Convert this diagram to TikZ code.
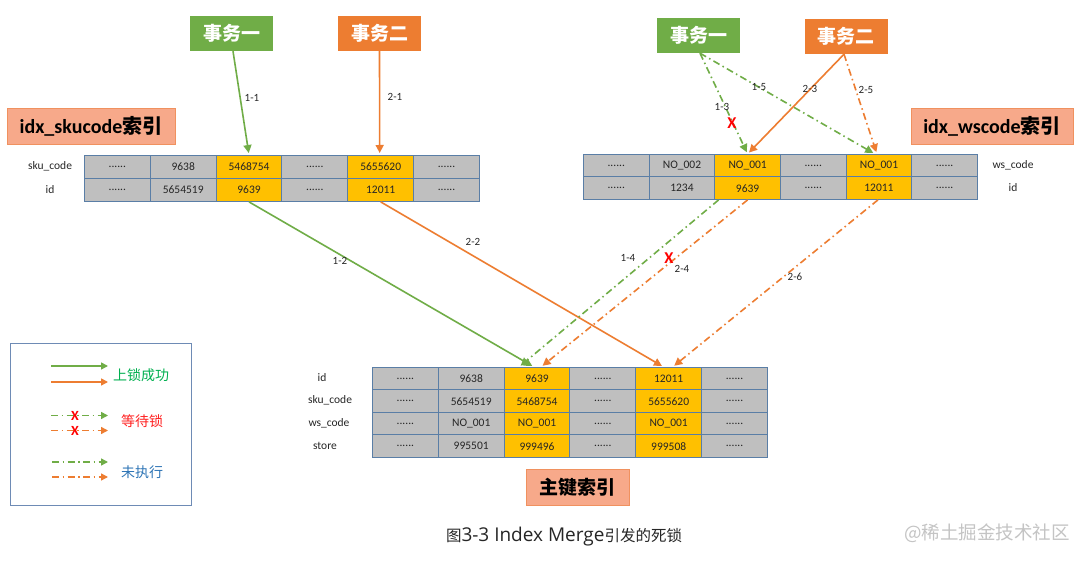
\documentclass[tikz,border=0pt]{standalone}
\usepackage{fontspec}
\setmainfont{Carlito}
\newfontfamily\cjk{Noto Sans CJK SC}
\newfontfamily\capfont{Open Sans}
\usetikzlibrary{arrows.meta,calc}
\newcommand{\cdts}{......}
\definecolor{tgreen}{HTML}{70AD47}
\definecolor{torange}{HTML}{ED7D31}
\definecolor{cellgray}{HTML}{BFBFBF}
\definecolor{cellyel}{HTML}{FFC000}
\definecolor{cellline}{HTML}{5A7EA6}
\definecolor{salmon}{HTML}{F7A98A}
\definecolor{salmonline}{HTML}{F0915F}
\definecolor{legline}{HTML}{6E8BB5}
\definecolor{okgreen}{HTML}{00B050}
\definecolor{waitred}{HTML}{FF2020}
\definecolor{todoblue}{HTML}{2E75B6}
\definecolor{wmgray}{HTML}{C4C4C4}
\tikzset{
 cell/.style={draw=cellline, line width=0.9pt, minimum width=65.83pt, minimum height=23pt, inner sep=0pt, anchor=north west, font=\fontsize{11.5}{13}\selectfont, text=black!85},
 cg/.style={cell, fill=cellgray},
 cy/.style={cell, fill=cellyel},
 rowlab/.style={font=\fontsize{11.5}{13}\selectfont, text=black!85},
 txbox/.style={minimum width=83pt, minimum height=35pt, inner sep=0pt, text=white, font=\cjk\bfseries\fontsize{19}{21}\selectfont},
 idxbox/.style={fill=salmon, draw=salmonline, line width=0.8pt, minimum height=36pt, inner sep=0pt, font=\fontsize{20}{22}\selectfont\bfseries},
 lk/.style={line width=1.6pt, -{Triangle[length=8pt,width=8pt]}, shorten >=2pt},
 ddot/.style={lk, dash pattern=on 7pt off 3.5pt on 1.5pt off 3.5pt},
 lab/.style={font=\fontsize{11}{12}\selectfont, text=black!85, inner sep=1pt},
 xmark/.style={text=red, font=\fontsize{16.5}{17}\selectfont\bfseries, inner sep=0pt},
 legx/.style={text=red, font=\fontsize{14}{14}\selectfont\bfseries, inner sep=0pt},
 legtxt/.style={font=\cjk\fontsize{14}{16}\selectfont},
 leglk/.style={line width=1.6pt, -{Triangle[length=7pt,width=7pt]}},
 legdd/.style={leglk, dash pattern=on 7pt off 3.5pt on 1.5pt off 3.5pt},
}
\begin{document}
\begin{tikzpicture}[x=1pt,y=-1pt]
\useasboundingbox (0,0) rectangle (1080,561);
\fill[white] (0,0) rectangle (1080,561);

% transaction boxes
\node[txbox, fill=tgreen] (L1) at (231.5,33.5) {事务一};
\node[txbox, fill=torange] (L2) at (379.5,33.5) {事务二};
\node[txbox, fill=tgreen] (R1) at (698.5,35.5) {事务一};
\node[txbox, fill=torange] (R2) at (846,36.5) {事务二};

% index title boxes
\node[idxbox, minimum width=168pt] (I1) at (91,126) {idx\_skucode{\cjk 索引}};
\node[idxbox, minimum width=162pt] (I2) at (992,126) {idx\_wscode{\cjk 索引}};
\node[idxbox, minimum width=103pt, minimum height=36pt, font=\cjk\bfseries\fontsize{19}{21}\selectfont] (PK) at (577.5,487) {主键索引};

% left table (idx_skucode)
\foreach \v/\s [count=\c] in {\cdts/cg,9638/cg,5468754/cy,\cdts/cg,5655620/cy,\cdts/cg}
  \node[\s] (sk1\c) at ({84+(\c-1)*65.83},155) {\v};
\foreach \v/\s [count=\c] in {\cdts/cg,5654519/cg,9639/cy,\cdts/cg,12011/cy,\cdts/cg}
  \node[\s] (sk2\c) at ({84+(\c-1)*65.83},178) {\v};
\node[rowlab] (skl1) at (50,166.5) {sku\_code};
\node[rowlab] (skl2) at (50,189.5) {id};

% right table (idx_wscode)
\foreach \v/\s [count=\c] in {\cdts/cg,NO\_002/cg,NO\_001/cy,\cdts/cg,NO\_001/cy,\cdts/cg}
  \node[\s, minimum width=65.67pt, minimum height=22.5pt] (ws1\c) at ({583+(\c-1)*65.67},154) {\v};
\foreach \v/\s [count=\c] in {\cdts/cg,1234/cg,9639/cy,\cdts/cg,12011/cy,\cdts/cg}
  \node[\s, minimum width=65.67pt, minimum height=22.5pt] (ws2\c) at ({583+(\c-1)*65.67},176.5) {\v};
\node[rowlab] (wsl1) at (1013,165) {ws\_code};
\node[rowlab] (wsl2) at (1013,188) {id};

% primary key table
\foreach \v/\s [count=\c] in {\cdts/cg,9638/cg,9639/cy,\cdts/cg,12011/cy,\cdts/cg}
  \node[\s, minimum height=22.5pt] (pk1\c) at ({372+(\c-1)*65.83},367) {\v};
\foreach \v/\s [count=\c] in {\cdts/cg,5654519/cg,5468754/cy,\cdts/cg,5655620/cy,\cdts/cg}
  \node[\s, minimum height=22.5pt] (pk2\c) at ({372+(\c-1)*65.83},389.5) {\v};
\foreach \v/\s [count=\c] in {\cdts/cg,NO\_001/cg,NO\_001/cy,\cdts/cg,NO\_001/cy,\cdts/cg}
  \node[\s, minimum height=22.5pt] (pk3\c) at ({372+(\c-1)*65.83},412) {\v};
\foreach \v/\s [count=\c] in {\cdts/cg,995501/cg,999496/cy,\cdts/cg,999508/cy,\cdts/cg}
  \node[\s, minimum height=22.5pt] (pk4\c) at ({372+(\c-1)*65.83},434.5) {\v};
\node[rowlab] (pkl1) at (322,378) {id};
\node[rowlab] (pkl2) at (330,400.5) {sku\_code};
\node[rowlab] (pkl3) at (329,423) {ws\_code};
\node[rowlab] (pkl4) at (325,445.5) {store};

% left arrows
\draw[lk, tgreen] ([xshift=1.5pt]L1.south) -- (sk13.north);
\draw[lk, torange] (L2.south) -- ([xshift=-1pt]sk15.north);
\draw[lk, tgreen] (sk23.south) -- ([xshift=-3pt]pk13.north);
\draw[lk, torange] (sk25.south) -- ([xshift=-5pt]pk15.north);
\node[lab] (t11) at (252,98) {1-1};
\node[lab] (t21) at (395,97) {2-1};
\node[lab] (t12) at (340,261) {1-2};
\node[lab] (t22) at (473,242) {2-2};

% right arrows
\draw[ddot, tgreen] ([xshift=1.5pt]R1.south) -- (ws13.north);
\draw[ddot, tgreen] ([xshift=1.5pt]R1.south) -- ([xshift=-4pt]ws15.north);
\draw[lk, torange] ([xshift=-2pt]R2.south) -- (ws13.north);
\draw[ddot, torange] ([xshift=-2pt]R2.south) -- ([xshift=-2pt]ws15.north);
\draw[ddot, tgreen] ([xshift=-29pt]ws23.south) -- ([xshift=-18pt]pk13.north);
\draw[ddot, torange] (ws23.south) -- ([xshift=4pt]pk13.north);
\draw[ddot, torange] ([xshift=-1pt]ws25.south) -- ([xshift=4pt]pk15.north);
\node[lab] (t13) at (722,107) {1-3};
\node[lab] (t15) at (759,87) {1-5};
\node[lab] (t23) at (810,89) {2-3};
\node[lab] (t25) at (866,90) {2-5};
\node[lab] (t14) at (628,258) {1-4};
\node[lab] (t24) at (682,269) {2-4};
\node[lab] (t26) at (795,277) {2-6};
\node[xmark] (x13) at (732,123) {X};
\node[xmark] (x24) at (669,258) {X};

% legend
\node[draw=legline, line width=0.8pt, minimum width=181pt, minimum height=162pt, inner sep=0pt] (LG) at (100.5,424) {};
\coordinate (ga1) at (51,366); \coordinate (gb1) at (108,366);
\coordinate (oa1) at (51,382); \coordinate (ob1) at (108,382);
\coordinate (ga2) at (51,415.5); \coordinate (gb2) at (108,415.5);
\coordinate (oa2) at (51,430.5); \coordinate (ob2) at (108,430.5);
\coordinate (ga3) at (52,462); \coordinate (gb3) at (108,462);
\coordinate (oa3) at (52,477); \coordinate (ob3) at (108,477);
\draw[leglk, tgreen] (ga1) -- (gb1);
\draw[leglk, torange] (oa1) -- (ob1);
\draw[legdd, tgreen] (ga2) -- (gb2);
\draw[legdd, torange] (oa2) -- (ob2);
\draw[legdd, tgreen] (ga3) -- (gb3);
\draw[legdd, torange] (oa3) -- (ob3);
\node[legx] (lx1) at (75,415.5) {X};
\node[legx] (lx2) at (75,430.5) {X};
\node[legtxt, text=okgreen] (lt1) at (141,375) {上锁成功};
\node[legtxt, text=waitred] (lt2) at (142,421) {等待锁};
\node[legtxt, text=todoblue] (lt3) at (142,472) {未执行};

% caption and watermark
\node[font=\cjk\fontsize{15.5}{18}\selectfont, text=black!85] (cap) at (564,537) {图{\capfont\fontsize{19}{20}\selectfont 3-3 Index Merge}引发的死锁};
\node[font=\cjk\fontsize{18.5}{20}\selectfont, text=wmgray] (wm) at (987,533) {@稀土掘金技术社区};
\end{tikzpicture}
\end{document}
